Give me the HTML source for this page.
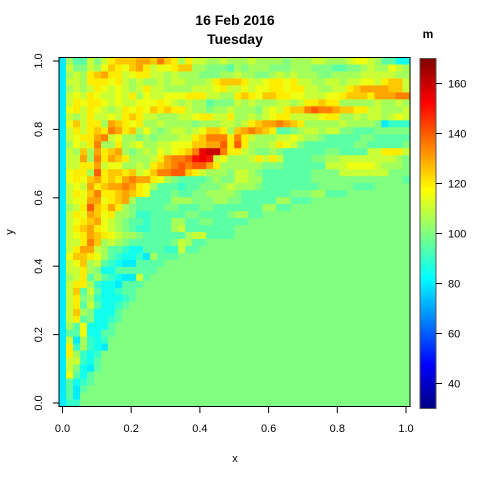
<!DOCTYPE html>
<html><head><meta charset="utf-8"><style>
body{margin:0;background:#fff}
svg{display:block;font-family:"Liberation Sans",sans-serif}
</style></head><body>
<svg id="chart" width="480" height="480" viewBox="0 0 480 480">
<text x="235" y="25" text-anchor="middle" font-size="14" font-weight="bold">16 Feb 2016</text>
<text x="235" y="44" text-anchor="middle" font-size="14" font-weight="bold">Tuesday</text>
<g id="cells"></g>
<rect x="59" y="57.5" width="351" height="349" fill="none" stroke="#000" stroke-width="1"/>
<g id="xaxis"></g>
<g id="yaxis"></g>
<text x="235" y="462" text-anchor="middle" font-size="11">x</text>
<text x="13" y="232" text-anchor="middle" font-size="11" transform="rotate(-90 13 232)">y</text>
<g id="legend"></g>
<text x="428" y="38" text-anchor="middle" font-size="12" font-weight="bold">m</text>
</svg>
<script>
// Values coded: 'A'=70, each letter +5 (C=80 cyan, G=100 green, K=120 yellow, T=165 red). Rows top (y=1) to bottom (y=0); short rows are filled with G (100).
const rowCodes = [
"CHFFIGIKLLLMMLNLKHKIIHHIHHHIHHHHGHHHIIHHHIJJIHFFDD",
"CIGGIHJLKJLMKIJJKLLHHGGGFHGHHHGGGHHHGGGFFGGHIHHJIH",
"CHIHKLMKKIJKKIIHIHHHGGGHHIHHGGHIHIHHHGGHHHHIIIIIHH",
"CIIHKKKJKIHIHHIHIIHHHIKLLLKIIJKKJKIIHHIIHIIJJIKLLI",
"CHIHIKJIJIHIKIIHHHHIIIJKIIJIJJKKJKKIIHHIIKLMMMMLLI",
"CIJIKJIIJIKHJIIJJJKKKIIHHKLKJLLKKJJIIIJJKLLLKMMMNN",
"CIKJKKJIJIIJJJKJIHIHHFGGGIHIHHHIIHIKKLKKHHHHHIHHIH",
"CJKIKJIHIKJKJLKLKKIHHGHHIHHHGIJIKLLNONNMLLKKIIHHHI",
"CIHIKIIJIKLKIIHHHIIJKKIIKHHIHIJKKIIIIJKKHHIHIIHIJI",
"CJLIKKHMLKJKHHIHHHHGHHHIIHIKLMMNMLKHHHHHIHHHHGCEEE",
"CIKIKLKNMKLHJHGHIIHIJLLKHLMNMLKFFGHIIHIIGGFFFGGGGG",
"CIJKKMNIJHHGHGHHHIIKLNNNKNKIHHHIIJIHHGFFFFFGGFFFFF",
"CHJIKNHHKHIJHHIIJJJLLMMOKOKHHHIKJIGFFFFFFFGGFFFFFG",
"CIHLHMKLMHGHIHJIJKLNRSSNKKIHGGHGFFFFFFGGFFFFIIKKKI",
"CIIMHNKMLKHHHIKMNNOQRQIJHHHIKIKIFFFFGGHHIIIIIIIIHG",
"CIIKKMIJJHHIHKLMNONOOMKHHHHHHGGGFFFFFFIIIJJJJIHHHG",
"CJKKHOKLLKLIJLNNOOLKIHHHGIIHGFFFFFFFGGGGIIIIIIIGGG",
"CJKJLMKLKMNMMKJHGFFFFGHGGIIHHFFFFFFFGGGGGGGGGGGGGF",
"CIJIMKLMMNMKJHFFFEFFGGGHIHHHGFFFFFFFFGGGGGFFFG",
"CIKJLNKKLMLKJFFFGFFGGHHHHGFFFFFFFGGGHHFFF",
"CIJJMMJKLMHFFFFFHHHGGGHHGGFFFFFHHFFF",
"CHIKOLKMKHGFFFFGGFFFGGFFFFFFFHHFF",
"CIKJMLJKHHGEEFFFFFGGFFFFGHHFF",
"CIJKLMJIHGFFEFFFHHFFGGFFFFF",
"CIKLMKJIHGFEEFFFHIFFFFFFF",
"CIJKMLKJIHHGFFFFFFHIIFFFF",
"CIIKNLHIHGFFFFFFGIHFFG",
"CIKMMIHFFEDDFFFEEIFF",
"CJLLKJHFEDDECHFFF",
"CIJLHIFEDCCFFFFG",
"CIIKHGDDFFFFFF",
"CHIKFHFEDCCIF",
"CIKKHEDDCFFF",
"CILFIFDDEFF",
"CIKGHEDDDEF",
"CIKFIFDDEF",
"CILHGDDDF",
"CIKFGDDEF",
"CHFJDDDF",
"CFFJDDFF",
"CICHEDE",
"CKEHEDC",
"CKHEDE",
"CIIEDF",
"CIGDCF",
"CJFDF",
"CFDEF",
"CFCF",
"CFCG",
"CEEG"
];
const legendTicks = [40, 60, 80, 100, 120, 140, 160];
const xTicks = [0, 0.2, 0.4, 0.6, 0.8, 1.0];
const yTicks = [0, 0.2, 0.4, 0.6, 0.8, 1.0];
const zMin = 30, zMax = 170, nCols = 50, nRows = 50;

const NS = "http://www.w3.org/2000/svg";
function codeValue(ch){ return 70 + (ch.charCodeAt(0) - 65) * 5; }
function jet(v){
  let t = Math.max(0, Math.min(1, (v - zMin) / (zMax - zMin)));
  const c = x => Math.round(255 * Math.max(0, Math.min(1, x)));
  return "rgb(" + c(1.5 - Math.abs(4*t - 3)) + "," + c(1.5 - Math.abs(4*t - 2)) + "," + c(1.5 - Math.abs(4*t - 1)) + ")";
}
// axis functions
const x0 = 62.5, xScaleW = 343.5, y0 = 403, yScaleH = 342;
function sx(v){ return x0 + v * xScaleW; }
function sy(v){ return y0 - v * yScaleH; }
function sLeg(v){ return 408.5 - (v - zMin) * 2.5; }
const cw = xScaleW / (nCols - 1), ch = yScaleH / (nRows - 1);

const cells = document.getElementById("cells");
for (let r = 0; r < nRows; r++){
  const s = rowCodes[r].padEnd(nCols, "G");
  const yv = 1 - r / (nRows - 1);
  for (let c = 0; c < nCols; c++){
    const xv = c / (nCols - 1);
    const rect = document.createElementNS(NS, "rect");
    
    
    rect.setAttribute("x", (sx(xv) - cw/2).toFixed(2));
    rect.setAttribute("y", (sy(yv) - ch/2).toFixed(2));
    rect.setAttribute("width", (cw + 0.4).toFixed(2));
    rect.setAttribute("height", (ch + 0.4).toFixed(2));
    rect.setAttribute("fill", jet(codeValue(s[c])));
    cells.appendChild(rect);
  }
}
const xa = document.getElementById("xaxis");
xTicks.forEach(v => {
  const l = document.createElementNS(NS, "line");
  
  
  l.setAttribute("x1", sx(v)); l.setAttribute("x2", sx(v));
  l.setAttribute("y1", 407); l.setAttribute("y2", 413); l.setAttribute("stroke", "#000");
  xa.appendChild(l);
  const t = document.createElementNS(NS, "text");
  
  
  t.setAttribute("x", sx(v)); t.setAttribute("y", 432);
  t.setAttribute("text-anchor", "middle"); t.setAttribute("font-size", "11");
  t.textContent = v.toFixed(1);
  xa.appendChild(t);
});
const ya = document.getElementById("yaxis");
yTicks.forEach(v => {
  const l = document.createElementNS(NS, "line");
  
  
  l.setAttribute("x1", 53); l.setAttribute("x2", 59);
  l.setAttribute("y1", sy(v)); l.setAttribute("y2", sy(v)); l.setAttribute("stroke", "#000");
  ya.appendChild(l);
  const t = document.createElementNS(NS, "text");
  
  
  t.setAttribute("x", 42); t.setAttribute("y", sy(v));
  t.setAttribute("text-anchor", "middle"); t.setAttribute("font-size", "11");
  t.setAttribute("transform", "rotate(-90 42 " + sy(v) + ")");
  t.textContent = v.toFixed(1);
  ya.appendChild(t);
});
const lg = document.getElementById("legend");
for (let v = zMin; v < zMax; v += 1){
  const r = document.createElementNS(NS, "rect");
  
  
  r.setAttribute("x", 420); r.setAttribute("width", 16);
  r.setAttribute("y", sLeg(v + 1)); r.setAttribute("height", 2.7);
  r.setAttribute("fill", jet(v + 0.5));
  lg.appendChild(r);
}
const box = document.createElementNS(NS, "rect");


box.setAttribute("x", 420); box.setAttribute("y", sLeg(zMax)); box.setAttribute("width", 16);
box.setAttribute("height", sLeg(zMin) - sLeg(zMax)); box.setAttribute("fill", "none"); box.setAttribute("stroke", "#555");
lg.appendChild(box);
legendTicks.forEach(v => {
  const l = document.createElementNS(NS, "line");
  
  
  l.setAttribute("x1", 436); l.setAttribute("x2", 442);
  l.setAttribute("y1", sLeg(v)); l.setAttribute("y2", sLeg(v)); l.setAttribute("stroke", "#000");
  lg.appendChild(l);
  const t = document.createElementNS(NS, "text");
  
  
  t.setAttribute("x", 448); t.setAttribute("y", sLeg(v) + 4);
  t.setAttribute("font-size", "11");
  t.textContent = v;
  lg.appendChild(t);
});
</script>
</body></html>
